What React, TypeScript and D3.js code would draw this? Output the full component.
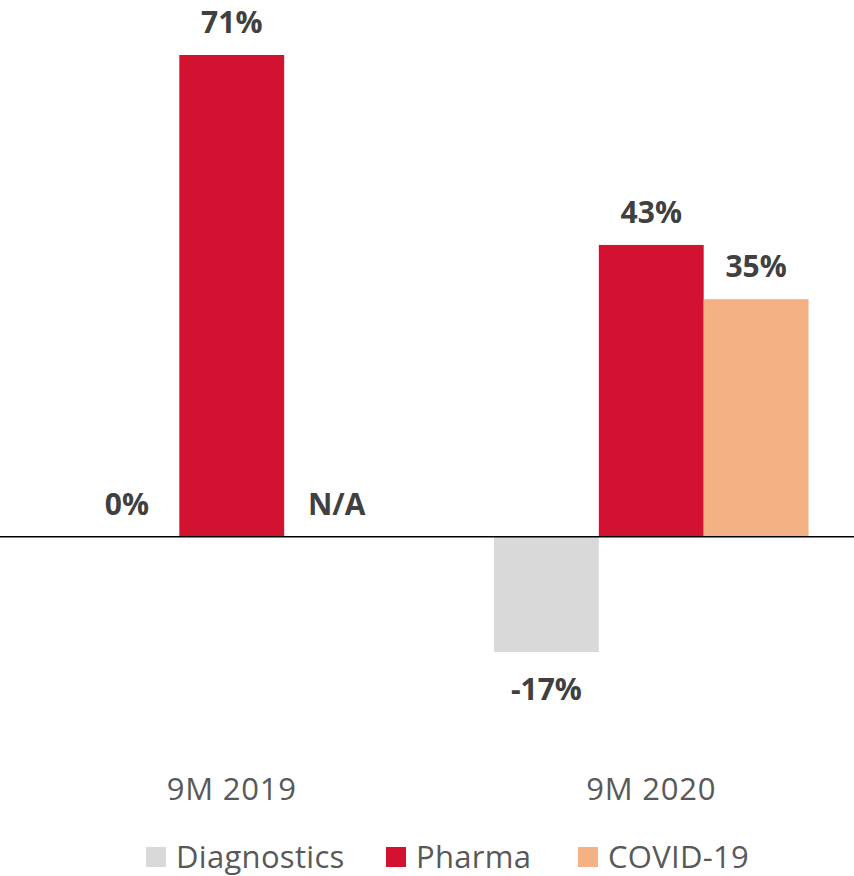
import React, { useRef, useEffect } from "react";
import * as d3 from "d3";

const categories = ["9M 2019", "9M 2020"];
const seriesNames = ["Diagnostics", "Pharma", "COVID-19"];
const diagnostics = [0, -17];
const pharma = [71, 43];
const covid: (number | null)[] = [null, 35];
const colors = ["#D9D9D9", "#D31130", "#F4B183"];

export default function App() {
  const svgRef = useRef<SVGSVGElement>(null);

  useEffect(() => {
    const svg = d3.select(svgRef.current);
    svg.selectAll("*").remove();

    const width = 854;
    const font = "'Open Sans', 'DejaVu Sans', sans-serif";

    const x0 = d3.scaleBand().domain(categories).range([22, 861]).paddingInner(0.25).paddingOuter(0.125);
    const x1 = d3.scaleBand().domain(seriesNames).range([0, x0.bandwidth()]);
    const y = d3.scaleLinear().domain([-17, 71]).range([652, 55]);

    const series = [diagnostics, pharma, covid];
    const rows = categories.flatMap((c, i) =>
      seriesNames.map((s, j) => ({ cat: c, name: s, value: series[j][i], color: colors[j] }))
    );

    const g = svg.append("g");
    g.selectAll("rect")
      .data(rows.filter((d) => d.value !== null && d.value !== 0))
      .enter()
      .append("rect")
      .attr("x", (d) => (x0(d.cat) as number) + (x1(d.name) as number))
      .attr("width", x1.bandwidth())
      .attr("y", (d) => y(Math.max(0, d.value as number)))
      .attr("height", (d) => Math.abs(y(d.value as number) - y(0)))
      .attr("fill", (d) => d.color);

    // zero line
    svg.append("line")
      .attr("x1", 0)
      .attr("x2", width)
      .attr("y1", y(0))
      .attr("y2", y(0))
      .attr("stroke", "#000")
      .attr("stroke-width", 1.5);

    // value labels
    g.selectAll("text.val")
      .data(rows)
      .enter()
      .append("text")
      .attr("class", "val")
      .attr("x", (d) => (x0(d.cat) as number) + (x1(d.name) as number) + x1.bandwidth() / 2)
      .attr("y", (d) => {
        const v = d.value === null ? 0 : d.value;
        return v < 0 ? y(v) + 48 : y(v) - 22;
      })
      .attr("text-anchor", "middle")
      .attr("font-family", font)
      .attr("font-weight", "bold")
      .attr("font-size", 30)
      .attr("fill", "#404040")
      .text((d) => (d.value === null ? "N/A" : `${d.value}%`));

    // category labels
    svg.selectAll("text.cat")
      .data(categories)
      .enter()
      .append("text")
      .attr("class", "cat")
      .attr("x", (d) => (x0(d) as number) + x0.bandwidth() / 2)
      .attr("y", 800)
      .attr("text-anchor", "middle")
      .attr("font-family", font)
      .attr("font-size", 31)
      .attr("letter-spacing", 0.8)
      .attr("fill", "#595959")
      .text((d) => d);

    // legend
    const legendX = [146, 386, 578];
    const leg = svg.selectAll("g.leg")
      .data(seriesNames)
      .enter()
      .append("g")
      .attr("class", "leg")
      .attr("transform", (_, i) => `translate(${legendX[i]},847)`);
    leg.append("rect").attr("width", 20).attr("height", 20).attr("fill", (_, i) => colors[i]);
    leg.append("text")
      .attr("x", 30)
      .attr("y", 21)
      .attr("font-family", font)
      .attr("font-size", 31)
      .attr("letter-spacing", 0.3)
      .attr("fill", "#595959")
      .text((d) => d);
  }, []);

  return (
    <svg
      ref={svgRef}
      width={854}
      height={876}
      style={{ position: "absolute", left: 0, top: 0, background: "#fff" }}
    />
  );
}
